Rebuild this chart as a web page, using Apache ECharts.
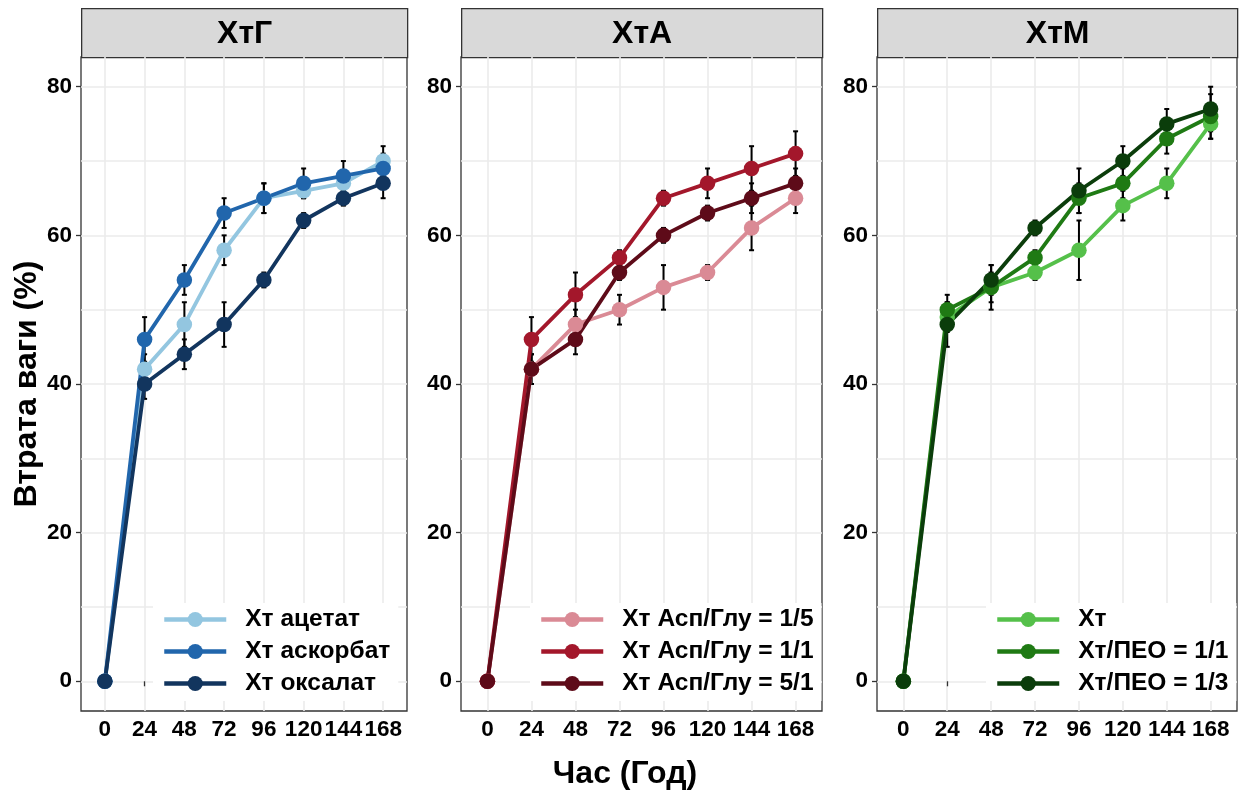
<!DOCTYPE html>
<html>
<head>
<meta charset="utf-8">
<script src="https://cdn.jsdelivr.net/npm/echarts@6/dist/echarts.min.js"></script>
<style>
  html, body { margin: 0; padding: 0; background: #ffffff; }
  #chart { width: 1244px; height: 792px; }
</style>
</head>
<body>
<div id="chart"></div>
<script>
// Time points (hours) and axis ticks
const hours = [0, 24, 48, 72, 96, 120, 144, 168];
const hourTicks = [0, 24, 48, 72, 96, 120, 144, 168];
const lossTicks = [0, 20, 40, 60, 80];
const lossGridLines = [0, 10, 20, 30, 40, 50, 60, 70, 80];

const panelTitles = ['ХтГ', 'ХтА', 'ХтМ'];

// Panel ХтГ: weight loss (%) and error
const namesG = ['Хт ацетат', 'Хт аскорбат', 'Хт оксалат'];
const acetate = [0, 42, 48, 58, 65, 66, 67, 70];
const acetateErr = [0, 2, 3, 2, 2, 1, 1, 2];
const ascorbate = [0, 46, 54, 63, 65, 67, 68, 69];
const ascorbateErr = [0, 3, 2, 2, 2, 2, 2, 2];
const oxalate = [0, 40, 44, 48, 54, 62, 65, 67];
const oxalateErr = [0, 2, 2, 3, 1, 1, 1, 2];

// Panel ХтА
const namesA = ['Хт Асп/Глу = 1/5', 'Хт Асп/Глу = 1/1', 'Хт Асп/Глу = 5/1'];
const aspGlu15 = [0, 42, 48, 50, 53, 55, 61, 65];
const aspGlu15Err = [0, 2, 2, 2, 3, 1, 3, 2];
const aspGlu11 = [0, 46, 52, 57, 65, 67, 69, 71];
const aspGlu11Err = [0, 3, 3, 1, 1, 2, 3, 3];
const aspGlu51 = [0, 42, 46, 55, 60, 63, 65, 67];
const aspGlu51Err = [0, 2, 2, 1, 1, 1, 2, 2];

// Panel ХтМ
const namesM = ['Хт', 'Хт/ПЕО = 1/1', 'Хт/ПЕО = 1/3'];
const chitosan = [0, 49, 53, 55, 58, 64, 67, 75];
const chitosanErr = [0, 2, 3, 1, 4, 2, 2, 2];
const peo11 = [0, 50, 53, 57, 65, 67, 73, 76];
const peo11Err = [0, 2, 2, 1, 2, 2, 2, 3];
const peo13 = [0, 48, 54, 61, 66, 70, 75, 77];
const peo13Err = [0, 3, 2, 1, 3, 2, 2, 3];

const FONT = '"Liberation Sans", Arial, sans-serif';

const panels = [
  { left: 81, width: 326, names: namesG, colors: ['#93C6E0', '#2166AC', '#12355E'],
    values: [acetate, ascorbate, oxalate], errors: [acetateErr, ascorbateErr, oxalateErr], legendLeft: 153 },
  { left: 461, width: 361, names: namesA, colors: ['#DA8A95', '#A3172B', '#5E0B19'],
    values: [aspGlu15, aspGlu11, aspGlu51], errors: [aspGlu15Err, aspGlu11Err, aspGlu51Err], legendLeft: 530 },
  { left: 877, width: 360, names: namesM, colors: ['#55C04A', '#1F7A14', '#0B3D0B'],
    values: [chitosan, peo11, peo13], errors: [chitosanErr, peo11Err, peo13Err], legendLeft: 986 }
];

const PLOT_TOP = 57, PLOT_H = 654, STRIP_TOP = 8, STRIP_H = 49;
const TICK_FONT = 22.5;

const grids = [], xAxes = [], yAxes = [], series = [], legends = [], graphics = [];

panels.forEach((p, i) => {
  grids.push({ left: p.left, top: PLOT_TOP, width: p.width, height: PLOT_H,
    show: true, backgroundColor: '#ffffff', borderColor: '#333333', borderWidth: 1.3 });

  xAxes.push({
    gridIndex: i, type: 'value', min: -14.4, max: 182.4, position: 'bottom',
    axisLine: { show: false },
    axisTick: { show: true, customValues: hourTicks, length: 5, lineStyle: { color: '#333333', width: 1.3 } },
    axisLabel: { customValues: hourTicks, fontSize: TICK_FONT, fontWeight: 'bold', color: '#000', fontFamily: FONT, margin: 7 },
    splitLine: { show: true, lineStyle: { color: '#EBEBEB', width: 1.6 } }
  });

  // grid lines every 10, labels every 20
  yAxes.push({
    gridIndex: i, type: 'value', min: -4, max: 84, position: 'left',
    name: i === 0 ? 'Втрата ваги (%)' : '',
    nameLocation: 'middle', nameGap: 31, nameRotate: 90,
    nameTextStyle: { fontSize: 32, fontWeight: 'bold', color: '#000', fontFamily: FONT },
    axisLine: { show: false },
    axisTick: { show: false, customValues: lossGridLines },
    axisLabel: { customValues: lossTicks, fontSize: TICK_FONT, fontWeight: 'bold', color: '#000', fontFamily: FONT, margin: 9 },
    splitLine: { show: true, lineStyle: { color: '#EBEBEB', width: 1.6 } }
  });
  // tick marks at labelled values
  yAxes.push({
    gridIndex: i, type: 'value', min: -4, max: 84, position: 'left', offset: 0,
    axisLine: { show: false },
    axisTick: { show: true, customValues: lossTicks, length: 5, lineStyle: { color: '#333333', width: 1.3 } },
    axisLabel: { show: false },
    splitLine: { show: false }
  });

  p.names.forEach((name, k) => {
    const vals = p.values[k], errs = p.errors[k];
    series.push({
      type: 'custom', xAxisIndex: i, yAxisIndex: 2 * i, silent: true, z: 1,
      data: hours.map((h, j) => [h, vals[j] - errs[j], vals[j] + errs[j]]).filter((d) => d[2] > d[1]),
      renderItem: (params, api) => {
        const lo = api.coord([api.value(0), api.value(1)]);
        const hi = api.coord([api.value(0), api.value(2)]);
        const cw = 2.5;
        const st = { stroke: '#000000', lineWidth: 2 };
        return { type: 'group', children: [
          { type: 'line', shape: { x1: lo[0], y1: lo[1], x2: hi[0], y2: hi[1] }, style: st },
          { type: 'line', shape: { x1: lo[0] - cw, y1: lo[1], x2: lo[0] + cw, y2: lo[1] }, style: st },
          { type: 'line', shape: { x1: hi[0] - cw, y1: hi[1], x2: hi[0] + cw, y2: hi[1] }, style: st }
        ] };
      }
    });
  });

  p.names.forEach((name, k) => {
    series.push({
      name: name, type: 'line', xAxisIndex: i, yAxisIndex: 2 * i, z: 3,
      data: hours.map((h, j) => [h, p.values[k][j]]),
      symbol: 'circle', symbolSize: 15.5, showSymbol: true,
      lineStyle: { color: p.colors[k], width: 3.8 },
      itemStyle: { color: p.colors[k] },
      animation: false
    });
  });

  legends.push({
    data: p.names, orient: 'vertical', left: p.legendLeft, top: 603,
    padding: [4, 8, 5, 9], itemGap: 7, itemWidth: 62, itemHeight: 19,
    backgroundColor: '#ffffff', selectedMode: false,
    lineStyle: { width: 4.5 },
    textStyle: { fontSize: 24.5, fontWeight: 'bold', color: '#000', fontFamily: FONT, padding: [0, 0, 0, 14] }
  });

  graphics.push({
    type: 'group', left: p.left, top: STRIP_TOP,
    children: [
      { type: 'rect', shape: { x: 0, y: 0, width: p.width, height: STRIP_H },
        style: { fill: '#D9D9D9', stroke: '#333333', lineWidth: 1.3 } },
      { type: 'text', x: p.width / 2, y: STRIP_H / 2 + 1,
        style: { text: panelTitles[i], fontSize: 32, fontWeight: 'bold', fill: '#000', fontFamily: FONT,
                 align: 'center', verticalAlign: 'middle' } }
    ]
  });
});

graphics.push({
  type: 'text', x: 625, y: 774,
  style: { text: 'Час (Год)', fontSize: 32, fontWeight: 'bold', fill: '#000', fontFamily: FONT,
           align: 'center', verticalAlign: 'middle' }
});

const chart = echarts.init(document.getElementById('chart'), null, { renderer: 'canvas' });
chart.setOption({
  backgroundColor: '#ffffff',
  animation: false,
  grid: grids,
  xAxis: xAxes,
  yAxis: yAxes,
  legend: legends,
  series: series,
  graphic: graphics
});
</script>
</body>
</html>
